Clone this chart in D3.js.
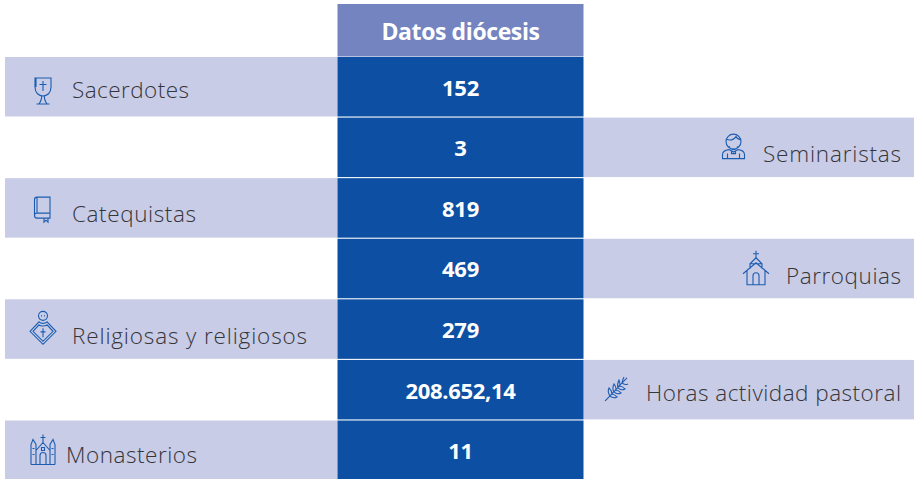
<!DOCTYPE html>
<html>
<head>
<meta charset="utf-8">
<script src="https://cdn.jsdelivr.net/npm/d3@7"></script>
<style>
    html, body { margin: 0; padding: 0; background: #fff; overflow: hidden; }
    text { font-family: "Open Sans", "Noto Sans", sans-serif; }
</style>
</head>
<body>
<svg id="chart"></svg>
<script>
const title = "Datos diócesis";
const labels = ["Sacerdotes", "Seminaristas", "Catequistas", "Parroquias", "Religiosas y religiosos", "Horas actividad pastoral", "Monasterios"];
const values = ["152", "3", "819", "469", "279", "208.652,14", "11"];
const iconNames = ["chalice", "seminarian", "book", "church", "nun", "palm", "monastery"];

const width = 914, height = 479;
const colors = { panel: "#c8cce6", cell: "#0d4fa3", header: "#7484c1", label: "#35353a", icon: "#1b5cb0" };

// hand adjustments per row, the labels and icons don't sit on a common line in the original
const labelBaseline = [41, 44, 44, 45, 45, 41, 42];
const labelWidth = [117, 138, 124, 115, 235, 255, 131];
const iconOffsetY = [34, 29, 31, 29, 29, 29, 28];
const leftTextX = [72, 0, 72, 0, 72, 0, 66];
const leftIconX = 43;
const rightTextX = 901;

// icons are drawn around 0,0
const iconPaths = {
    chalice: "M-8,-13H8V-4C8,2 4,5 0,5C-4,5 -8,2 -8,-4Z M-7,-13V-4 M0,-10V0 M-3.5,-6.5H3.5 M-1.5,5C-1,8 -2,10 -4,13 M1.5,5C1,8 2,10 4,13 M-6.5,13H6.5",
    book: "M-6,-12H7V9H-6C-8,9 -8.5,8 -8.5,6V-9.5C-8.5,-11 -7.5,-12 -6,-12Z M-8.5,6C-8.5,4.5 -7.5,4 -6,4H7 M-6,-12V4 M1,9V13L3,11L5,13V9",
    seminarian: "M-7,-5A7.5,7.5 0 1 1 8,-5A7.5,7.5 0 1 1 -7,-5Z M-6,-7C-2,-6 1,-7 3,-10C4,-8 6,-7 7.5,-7 M-4,-0.5C-3,2 -1,3 0.5,3C2,3 4,2 5,-0.5 M-10.5,12V8C-10.5,5 -8,3.5 -4,3L0.5,5.5L5,3C9,3.5 11.5,5 11.5,8V12Z M-5.5,12V7 M6.5,12V7 M-1.5,4V7H2.5V4",
    church: "M0,-17V-10 M-3,-14H3 M0,-10L-6,-4V1 M0,-10L6,-4V1 M-6,-4H6 M-13,6L0,-5L13,6 M-9,3V17H9V3 M-3,17V8C-3,6 -1.5,5 0,5C1.5,5 3,6 3,8V17",
    nun: "M-4.5,-12.5A4.5,4.5 0 1 1 4.5,-12.5A4.5,4.5 0 1 1 -4.5,-12.5Z M-13,3L-4,-6.5C-2,-4.5 2,-4.5 4,-6.5L13,3L0,16Z M-10,3L-4,-3.5C-2,-2 2,-2 4,-3.5L10,3L0,13Z M0,0V9 M-2.5,3.5H2.5 M-2,-12.5H-1 M1,-12.5H2",
    palm: "M-11,12C-5,6 3,-3 11,-11 M-6,7C-8,4 -8,1 -7,-1C-5,1 -4,3 -4,5 M-6,7C-4,9 -1,9 1,8C-1,6 -3,5 -5,5.5 M-2,3C-4,0 -3,-3 -2,-5C0,-3 0,0 0,1 M-2,3C0,5 3,5 5,4C3,2 1,1 -1,1.5 M2,-1C1,-4 2,-7 3,-9C4,-7 4,-4 4,-3 M2,-1C4,1 7,1 9,0C7,-2 5,-3 3,-2.5 M6,-6C6,-8 7,-10 8,-12 M6,-6C8,-4 10,-4 12,-5",
    monastery: "M-12,16V-4L-10,-9L-7,-4V16 M7,16V-4L10,-9L12,-4V16 M-12,16H12 M-7,2L0,-6L7,2 M0,-6V-14 M-2.5,-11H2.5 M-3,16V7C-3,5 -1.5,4 0,4C1.5,4 3,5 3,7V16 M-1.5,-1V2H1.5V-1Z M-10.5,0H-8.5 M8.5,0H10.5 M-10.5,6H-8.5 M8.5,6H10.5"
};

const svg = d3.select("#chart").attr("width", width).attr("height", height);

// y position of each row
const yScale = d3.scaleBand()
    .domain(labels)
    .range([57, 480])
    .paddingInner(0.018);

const colLeft = 5, colCenter = 337.5, colRight = 583.5;

// header
svg.append("rect")
    .attr("x", colCenter)
    .attr("y", 4)
    .attr("width", colRight - colCenter)
    .attr("height", 52.5)
    .attr("fill", colors.header);
svg.append("text")
    .attr("x", (colCenter + colRight) / 2)
    .attr("y", 40)
    .attr("text-anchor", "middle")
    .attr("font-size", 23)
    .attr("font-weight", 700)
    .attr("letter-spacing", -0.4)
    .attr("fill", "#fff")
    .text(title);

const rows = svg.selectAll(".row")
    .data(labels)
    .enter().append("g")
    .attr("class", "row")
    .attr("transform", d => `translate(0,${yScale(d)})`);

// side panel, odd rows on the right
rows.append("rect")
    .attr("x", (d, i) => i % 2 ? colRight : colLeft)
    .attr("width", (d, i) => i % 2 ? width - colRight : colCenter - colLeft)
    .attr("height", yScale.bandwidth())
    .attr("fill", colors.panel);

rows.append("rect")
    .attr("x", colCenter)
    .attr("width", colRight - colCenter)
    .attr("height", yScale.bandwidth())
    .attr("fill", colors.cell);

rows.append("text")
    .attr("x", (colCenter + colRight) / 2)
    .attr("y", yScale.bandwidth() / 2 + 9)
    .attr("text-anchor", "middle")
    .attr("font-size", 22)
    .attr("font-weight", 700)
    .attr("letter-spacing", -0.3)
    .attr("fill", "#fff")
    .text((d, i) => values[i]);

const labelText = rows.append("text")
    .attr("x", (d, i) => i % 2 ? rightTextX - labelWidth[i] : leftTextX[i])
    .attr("y", (d, i) => labelBaseline[i])
    .attr("textLength", (d, i) => labelWidth[i])
    .attr("lengthAdjust", "spacing")
    .attr("font-size", 22.5)
    .attr("font-weight", 300)
    .attr("fill", colors.label)
    .text(d => d);

// right side icons sit 30px before the start of the label
rows.append("path")
    .attr("d", (d, i) => iconPaths[iconNames[i]])
    .attr("transform", (d, i) => {
        const x = i % 2 ? rightTextX - labelWidth[i] - 30 : leftIconX;
        return `translate(${x},${iconOffsetY[i]})`;
    })
    .attr("fill", "none")
    .attr("stroke", colors.icon)
    .attr("stroke-width", 1.1);
</script>
</body>
</html>
